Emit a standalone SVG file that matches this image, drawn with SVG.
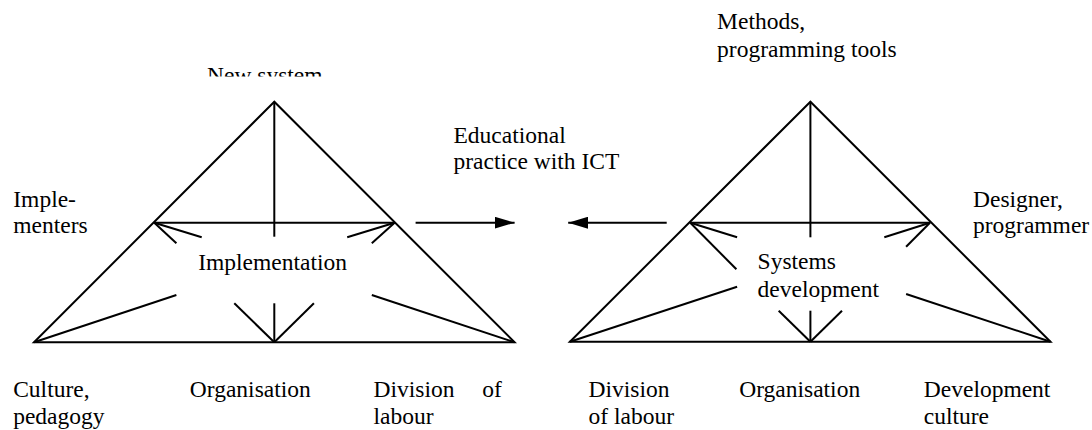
<svg xmlns="http://www.w3.org/2000/svg" width="1092" height="430" viewBox="0 0 1092 430">
<style>
text { font-family: 'Liberation Serif', 'Times New Roman', serif; font-size: 23.5px; fill: #000; }
.ln { stroke: #000; stroke-width: 2; fill: none; stroke-linecap: butt; }
</style>
<defs>
<marker id="ah" markerWidth="20" markerHeight="12" refX="20" refY="6" orient="auto" markerUnits="userSpaceOnUse">
<path d="M0,0 L20,6 L0,12 z" fill="#000"/>
</marker>
<clipPath id="clipNew"><rect x="150" y="40" width="250" height="36.5"/></clipPath>
</defs>
<rect width="1092" height="430" fill="#fff"/>

<g id="implementation-triangle">
<polygon class="ln" points="274.3,101.7 34,342.3 514.6,342.3"/>
<line class="ln" x1="154.3" y1="222.7" x2="394.6" y2="222.7"/>
<line class="ln" x1="274.3" y1="101.7" x2="274.3" y2="236.7"/>
<line class="ln" x1="274.3" y1="303.3" x2="274.3" y2="342.3"/>
<line class="ln" x1="154.3" y1="222.7" x2="201.7" y2="237.3"/>
<line class="ln" x1="154.3" y1="222.7" x2="176.4" y2="243.3"/>
<line class="ln" x1="394.6" y1="222.7" x2="347.2" y2="237.3"/>
<line class="ln" x1="394.6" y1="222.7" x2="371.8" y2="243.3"/>
<line class="ln" x1="34" y1="342.3" x2="176.4" y2="295"/>
<line class="ln" x1="514.6" y1="342.3" x2="371.8" y2="295"/>
<line class="ln" x1="274.3" y1="342.3" x2="234.3" y2="303.3"/>
<line class="ln" x1="274.3" y1="342.3" x2="313.9" y2="303.3"/>
<text x="198.2" y="270">Implementation</text>
</g>

<g id="systems-development-triangle">
<polygon class="ln" points="810.4,101.7 569.9,341.7 1050.5,341.7"/>
<line class="ln" x1="690.3" y1="222.7" x2="930" y2="222.7"/>
<line class="ln" x1="810.4" y1="101.7" x2="810.4" y2="237.3"/>
<line class="ln" x1="810.4" y1="310.7" x2="810.4" y2="341.7"/>
<line class="ln" x1="690.3" y1="222.7" x2="737.1" y2="237.3"/>
<line class="ln" x1="690.3" y1="222.7" x2="736.4" y2="269.3"/>
<line class="ln" x1="930" y1="222.7" x2="884.3" y2="237.3"/>
<line class="ln" x1="930" y1="222.7" x2="906.1" y2="246.7"/>
<line class="ln" x1="569.9" y1="341.7" x2="737.1" y2="286.7"/>
<line class="ln" x1="1050.5" y1="341.7" x2="906.1" y2="294"/>
<line class="ln" x1="810.4" y1="341.7" x2="778.7" y2="310.7"/>
<line class="ln" x1="810.4" y1="341.7" x2="842" y2="310.7"/>
<text x="757.6" y="269.3">Systems</text>
<text x="757.6" y="296.7">development</text>
</g>

<g id="connectors">
<line class="ln" x1="415.6" y1="222.7" x2="514.6" y2="222.7" marker-end="url(#ah)"/>
<line class="ln" x1="666.7" y1="222.7" x2="568.2" y2="222.7" marker-end="url(#ah)"/>
</g>

<g id="new-system">
<text x="207" y="82.5" clip-path="url(#clipNew)">New system</text>
</g>
<g id="educational-practice">
<text x="453.5" y="143"><tspan x="453.5">Educational</tspan><tspan x="453.5" y="169">practice with ICT</tspan></text>
</g>
<g id="methods">
<text x="717.1" y="29.3"><tspan x="717.1">Methods,</tspan><tspan x="717.1" y="56.7">programming tools</tspan></text>
</g>
<g id="implementers">
<text x="13.3" y="206.7"><tspan x="13.3">Imple-</tspan><tspan x="13.3" y="233.3">menters</tspan></text>
</g>
<g id="designer">
<text x="973" y="206.7"><tspan x="973">Designer,</tspan><tspan x="973" y="233.3">programmer</tspan></text>
</g>
<g id="culture-pedagogy">
<text x="13.2" y="396.5"><tspan x="13.2">Culture,</tspan><tspan x="13.2" y="423.5">pedagogy</tspan></text>
</g>
<g id="organisation-left">
<text x="189.8" y="396.5">Organisation</text>
</g>
<g id="division-left">
<text x="373.6" y="396.5"><tspan x="373.6">Division</tspan><tspan x="482.2">of</tspan><tspan x="373.6" y="423.5">labour</tspan></text>
</g>
<g id="division-right">
<text x="588.5" y="396.5"><tspan x="588.5">Division</tspan><tspan x="588.5" y="423.5">of labour</tspan></text>
</g>
<g id="organisation-right">
<text x="739.2" y="396.5">Organisation</text>
</g>
<g id="development-culture">
<text x="923.8" y="396.5"><tspan x="923.8">Development</tspan><tspan x="923.8" y="423.5">culture</tspan></text>
</g>
</svg>
